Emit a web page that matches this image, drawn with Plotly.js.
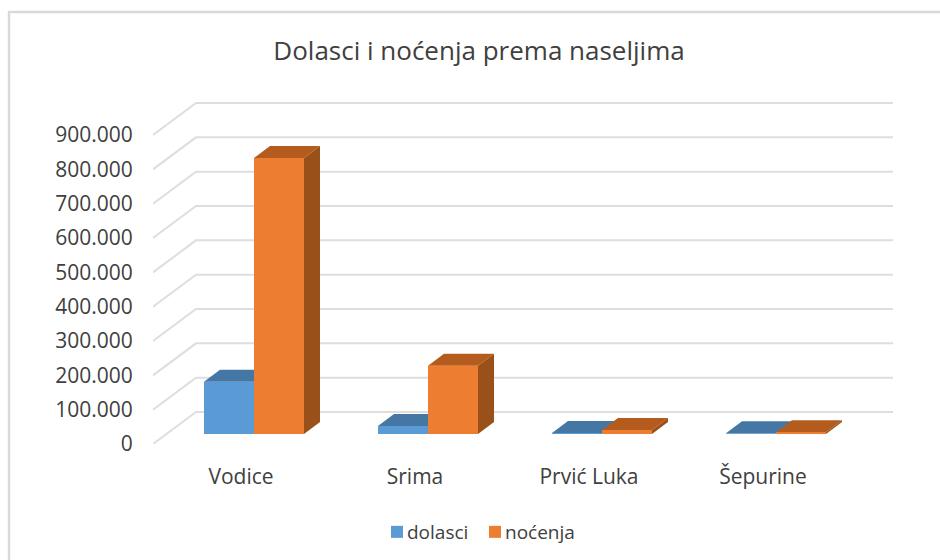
<!DOCTYPE html>
<html><head><meta charset="utf-8">
<script src="https://cdn.plot.ly/plotly-3.0.0.min.js"></script>
<style>html,body{margin:0;padding:0;background:#fff}</style>
</head><body><div id="chart" style="width:940px;height:560px"></div>
<script>
const categories = ["Vodice", "Srima", "Prvić Luka", "Šepurine"];
const dolasci = [152000, 23000, 3000, 2000];
const nocenja = [804000, 199000, 12000, 5000];
const yTicks = [0,100000,200000,300000,400000,500000,600000,700000,800000,900000];
const yTickText = ["0","100.000","200.000","300.000","400.000","500.000","600.000","700.000","800.000","900.000"];

const FONT = '"Open Sans", sans-serif';
const pxPerCat = 174, pxPerUnit = 343.3/1000000;
const ux = p => p/pxPerCat, uy = p => p/pxPerUnit;
const barW = ux(50), offs = ux(13), floor = uy(10);
const depX = ux(16), depY = uy(12);
const gridDX = ux(43), gridDY = uy(32);
const xMin = -88/174, xMax = 652/174;

function faces(vals, side, colors){
  const tr = [];
  vals.forEach((v,i)=>{
    const x0 = i + offs + (side<0 ? -barW : 0), x1 = x0 + barW;
    const b = floor, t = floor + v;
    tr.push({type:'scatter',mode:'lines',x:[x0,x0+depX,x1+depX,x1,x0],y:[t,t+depY,t+depY,t,t],fill:'toself',fillcolor:colors.top,line:{width:0,color:colors.top},showlegend:false,hoverinfo:'skip'});
    tr.push({type:'scatter',mode:'lines',x:[x1,x1+depX,x1+depX,x1,x1],y:[b,b+depY,t+depY,t,b],fill:'toself',fillcolor:colors.side,line:{width:0,color:colors.side},showlegend:false,hoverinfo:'skip'});
    tr.push({type:'scatter',mode:'lines',x:[x0,x1,x1,x0,x0],y:[b,b,t,t,b],fill:'toself',fillcolor:colors.front,line:{width:0,color:colors.front},showlegend:false,hoverinfo:'skip'});
  });
  return tr;
}
const blue = {front:'#5B9BD5',top:'#4577A5',side:'#35638D'};
const orange = {front:'#ED7D31',top:'#B35C1E',side:'#9A5119'};

const legendBars = [
  {type:'bar',name:'dolasci',x:categories.map((c,i)=>i+offs-barW/2),y:dolasci,base:floor,width:barW,marker:{color:blue.front},hoverinfo:'skip'},
  {type:'bar',name:'noćenja',x:categories.map((c,i)=>i+offs+barW/2),y:nocenja,base:floor,width:barW,marker:{color:orange.front},hoverinfo:'skip'}
];
const traces = legendBars.concat(faces(dolasci,-1,blue),faces(nocenja,1,orange));

const shapes = yTicks.map(v=>({type:'path',layer:'below',xref:'x',yref:'y',
  path:`M${xMin},${v} L${xMin+gridDX},${v+gridDY} L${xMax},${v+gridDY}`,
  line:{color:'#DEDEDE',width:2}}));
const px = x => (x-153)/740, py = y => (444-y)/349;
shapes.push({type:'line',layer:'below',xref:'paper',yref:'paper',x0:px(9),x1:px(9),y0:py(12),y1:py(560),line:{color:'#D9D9D9',width:2.5}});
shapes.push({type:'line',layer:'below',xref:'paper',yref:'paper',x0:px(8),x1:px(940),y0:py(12),y1:py(12),line:{color:'#D9D9D9',width:2.5}});

const layout = {
  width:940,height:560,paper_bgcolor:'#fff',plot_bgcolor:'#fff',
  margin:{l:153,r:47,t:95,b:116},
  font:{family:FONT,color:'#404040',size:20},
  title:{text:'Dolasci i noćenja prema naseljima',font:{family:FONT,size:26,color:'#404040'},x:479/940,xanchor:'center',y:1-51/560,yanchor:'middle'},
  xaxis:{type:'linear',range:[xMin,xMax],tickmode:'array',tickvals:categories.map((c,i)=>i),ticktext:categories,showgrid:false,zeroline:false,showline:false,ticks:'outside',ticklen:14,tickcolor:'rgba(0,0,0,0)',tickfont:{size:21}},
  yaxis:{range:[0,349/pxPerUnit],tickmode:'array',tickvals:yTicks,ticktext:yTickText,showgrid:false,zeroline:false,showline:false,ticks:'outside',ticklen:15,tickcolor:'rgba(0,0,0,0)',tickfont:{size:21}},
  barmode:'overlay',shapes,
  legend:{orientation:'h',x:367/940,xanchor:'left',xref:'container',y:1-532/560,yref:'container',yanchor:'middle',font:{size:19}},
};
Plotly.newPlot('chart',traces,layout,{displayModeBar:false,staticPlot:true}).then(()=>{
  document.querySelectorAll('.legend .legendsymbols').forEach(n=>n.setAttribute('transform','translate(10,0)'));
  const items = document.querySelectorAll('.legend .traces');
  const t0 = items[0].getBoundingClientRect(), second = items[1];
  const m = /translate\(([-\d.]+),\s*([-\d.]+)\)/.exec(second.getAttribute('transform'));
  const x0 = /translate\(([-\d.]+)/.exec(items[0].getAttribute('transform'));
  if (m && x0) second.setAttribute('transform',`translate(${+x0[1]+98},${m[2]})`);
});
</script></body></html>
